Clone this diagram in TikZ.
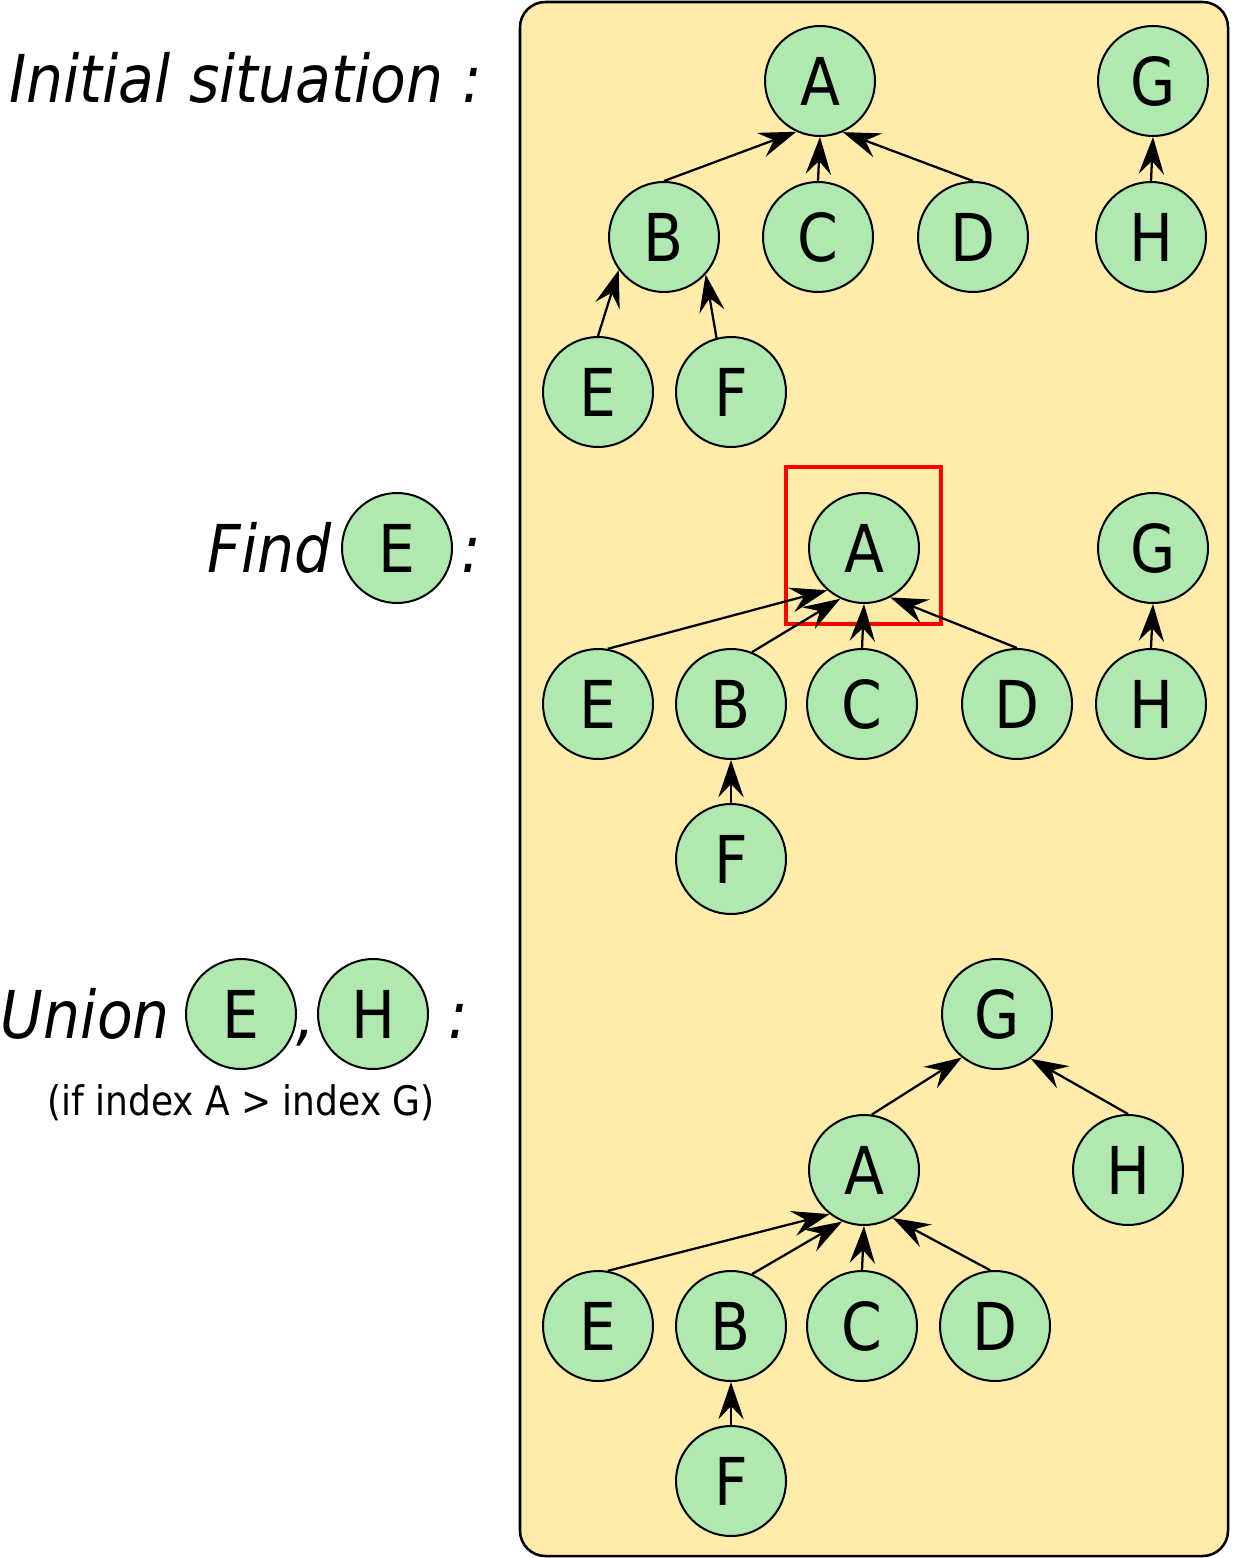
\documentclass[tikz,border=0pt]{standalone}
\usepackage{fontspec}
\setmainfont[FakeStretch=0.885, ItalicFont={DejaVu Sans Oblique}]{DejaVu Sans}
\usetikzlibrary{arrows.meta}
\definecolor{boxfill}{RGB}{255,236,170}
\definecolor{nodefill}{RGB}{175,233,175}
\begin{document}
\begin{tikzpicture}[x=0.75pt, y=-0.75pt,
  vertex/.style={circle, draw, line width=1.5pt, fill=nodefill, minimum size=82.5pt, inner sep=0pt, font=\fontsize{49.5}{50}\selectfont},
  parent/.style={-{Stealth[length=28pt, width=19pt, inset=10pt]}, line width=1.7pt},
  caption/.style={font=\fontsize{49.5}{50}\selectfont\itshape, inner sep=0pt}]
\useasboundingbox (0,0) rectangle (1232,1558);
\draw[line width=1.9pt, fill=boxfill, rounded corners=19pt] (520,2) rectangle (1228,1556);
% initial situation
\node[caption, anchor=base east] (initial) at (482,103) {Initial situation :};
\node[vertex] (iA) at (820,81) {A};
\node[vertex] (iG) at (1153,81) {G};
\node[vertex] (iB) at (664,237) {B};
\node[vertex] (iC) at (818,237) {C};
\node[vertex] (iD) at (973,237) {D};
\node[vertex] (iH) at (1151,237) {H};
\node[vertex] (iE) at (598,392) {E};
\node[vertex] (iF) at (731,392) {F};
\draw[parent] (iB.north) -- (iA.245);
\draw[parent] (iC.north) -- (iA.south);
\draw[parent] (iD.north) -- (iA.294);
\draw[parent] (iH.north) -- (iG.south);
\draw[parent] (iE.north) -- (iB.216);
\draw[parent] (iF.105) -- (iB.318);
% find
\node[vertex] (findE) at (397,548) {E};
\node[caption, anchor=base east] (find) at (332,572) {Find};
\node[caption, anchor=base west] (findcolon) at (461,572) {:};
\node[vertex] (fA) at (864,548) {A};
\node[vertex] (fG) at (1153,548) {G};
\node[vertex] (fE) at (598,704) {E};
\node[vertex] (fB) at (731,704) {B};
\node[vertex] (fC) at (862,704) {C};
\node[vertex] (fD) at (1017,704) {D};
\node[vertex] (fH) at (1151,704) {H};
\node[vertex] (fF) at (731,859) {F};
\draw[red, line width=3pt] (786,467) rectangle (941,624);
\draw[parent] (fE.80) -- (fA.229);
\draw[parent] (fB.68) -- (fA.245);
\draw[parent] (fC.north) -- (fA.south);
\draw[parent] (fD.north) -- (fA.298);
\draw[parent] (fH.north) -- (fG.south);
\draw[parent] (fF.north) -- (fB.south);
% union
\node[vertex] (unionE) at (241,1014) {E};
\node[vertex] (unionH) at (373,1014) {H};
\node[caption, anchor=base east] (union) at (170,1038) {Union};
\node[caption, anchor=base] (unioncomma) at (306,1038) {,};
\node[caption, anchor=base] (unioncolon) at (458,1038) {:};
\node[font=\fontsize{30.5}{32}\selectfont, inner sep=0pt, anchor=base] (cond) at (241,1115) {(if index A > index G)};
\node[vertex] (uG) at (997,1014) {G};
\node[vertex] (uA) at (864,1170) {A};
\node[vertex] (uH) at (1128,1170) {H};
\node[vertex] (uE) at (598,1326) {E};
\node[vertex] (uB) at (731,1326) {B};
\node[vertex] (uC) at (862,1326) {C};
\node[vertex] (uD) at (995,1326) {D};
\node[vertex] (uF) at (731,1481) {F};
\draw[parent] (uA.82) -- (uG.231);
\draw[parent] (uH.north) -- (uG.307);
\draw[parent] (uE.80) -- (uA.232);
\draw[parent] (uB.68) -- (uA.247);
\draw[parent] (uC.north) -- (uA.south);
\draw[parent] (uD.95) -- (uA.301);
\draw[parent] (uF.north) -- (uB.south);
\end{tikzpicture}
\end{document}
